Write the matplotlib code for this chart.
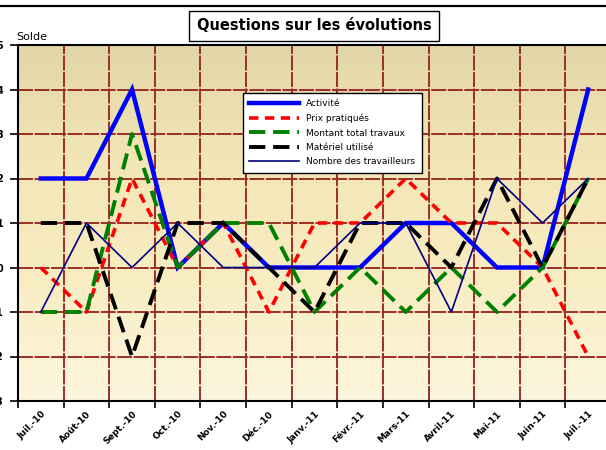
import numpy as np
import matplotlib
matplotlib.use("Agg")
import matplotlib.pyplot as plt
from matplotlib.lines import Line2D
from matplotlib.colors import LinearSegmentedColormap

categories = ["Juil.-10", "Août-10", "Sept.-10", "Oct.-10", "Nov.-10", "Déc.-10",
              "Janv.-11", "Févr.-11", "Mars-11", "Avril-11", "Mai-11", "Juin-11", "Juil.-11"]
activite = [2, 2, 4, 0, 1, 0, 0, 0, 1, 1, 0, 0, 4]
prix = [0, -1, 2, 0, 1, -1, 1, 1, 2, 1, 1, 0, -2]
montant = [-1, -1, 3, 0, 1, 1, -1, 0, -1, 0, -1, 0, 2]
materiel = [1, 1, -2, 1, 1, 0, -1, 1, 1, 0, 2, 0, 2]
nombre = [-1, 1, 0, 1, 0, 0, 0, 1, 1, -1, 2, 1, 2]
yticks = [-3, -2, -1, 0, 1, 2, 3, 4, 5]

W, H = 606, 450
fig = plt.figure(figsize=(W / 100, H / 100), dpi=100)
fig.patch.set_facecolor("white")

left, right, top, bottom = 18, 611, 45, 401
ax = fig.add_axes([left / W, 1 - bottom / H, (right - left) / W, (bottom - top) / H])
ax.set_facecolor("none")

# gradient background
cmap = LinearSegmentedColormap.from_list("bg", ["#FDF6DE", "#F8EDC3", "#F3E6B6", "#E2D6A8"])
grad = np.linspace(0, 1, 256).reshape(-1, 1)
ax.imshow(grad, cmap=cmap, aspect="auto", extent=[0, 1, 0, 1], transform=ax.transAxes,
          origin="lower", zorder=0)

x = np.arange(len(categories))
ax.set_xlim(-0.5, len(categories) - 0.5)
ax.set_ylim(-3, 5)

# grid
grid_col = "#9A2E28"
for yv in yticks[1:-1]:
    ax.axhline(yv, color=grid_col, lw=1.4, dashes=(7.7, 0.8), zorder=1)
for xv in np.arange(0.5, len(categories) - 0.5, 1.0):
    ax.axvline(xv, color=grid_col, lw=1.4, dashes=(7.7, 0.8), zorder=1)

ax.plot(x, activite, color="#0000FF", lw=3.2, solid_joinstyle="miter", zorder=3, label="Activité")
ax.plot(x, prix, color="#FF0000", lw=2.6, dashes=(2.6, 1.8), zorder=4, label="Prix pratiqués")
ax.plot(x, montant, color="#008000", lw=2.8, dashes=(4.2, 2.0), zorder=5, label="Montant total travaux")
ax.plot(x, materiel, color="#000000", lw=2.8, dashes=(4.2, 2.0), zorder=6, label="Matériel utilisé")
ax.plot(x, nombre, color="#000080", lw=1.2, zorder=7, label="Nombre des travailleurs")

# axes styling
for s in ["left", "bottom", "top"]:
    ax.spines[s].set_color("black")
    ax.spines[s].set_linewidth(1.5)
    ax.spines[s].set_zorder(8)
ax.spines["right"].set_visible(False)

ax.set_yticks(yticks)
ax.set_yticklabels([str(v) for v in yticks], fontsize=7, fontweight="bold")
ax.tick_params(axis="y", length=6, width=1.2, pad=4.5, direction="out")

ax.set_xticks(x)
ax.set_xticklabels(categories, fontsize=6.5, fontweight="bold", rotation=45,
                   ha="right", va="top", rotation_mode="anchor")
ax.tick_params(axis="x", which="major", length=0, pad=6)
ax.set_xticks(np.arange(-0.5, len(categories), 1.0), minor=True)
ax.tick_params(axis="x", which="minor", length=5, width=1.2, direction="out")

# legend
leg = ax.legend(loc="upper left", bbox_to_anchor=((243 - left) / (right - left), 1 - (93 - top) / (bottom - top)),
                fontsize=6.5, frameon=True, fancybox=False, edgecolor="black",
                handlelength=5.5, handletextpad=0.8, labelspacing=0.6, borderpad=0.7,
                borderaxespad=0)
leg.get_frame().set_linewidth(1.0)
leg.get_frame().set_facecolor("white")
leg.get_frame().set_alpha(1)
leg.set_zorder(10)

# Solde label
fig.text(16 / W, 1 - 40 / H, "Solde", fontsize=8, ha="left", va="baseline")

# title box
fig.text(314 / W, 1 - 26 / H, "Questions sur les évolutions", fontsize=10.5, fontweight="bold",
         ha="center", va="center",
         bbox=dict(boxstyle="square,pad=0.5", facecolor="white", edgecolor="black", linewidth=1.0))

# top border line
fig.add_artist(Line2D([0, 1], [1 - 6 / H, 1 - 6 / H], color="black", lw=1.6, transform=fig.transFigure))

fig.savefig("out.png", dpi=100)
